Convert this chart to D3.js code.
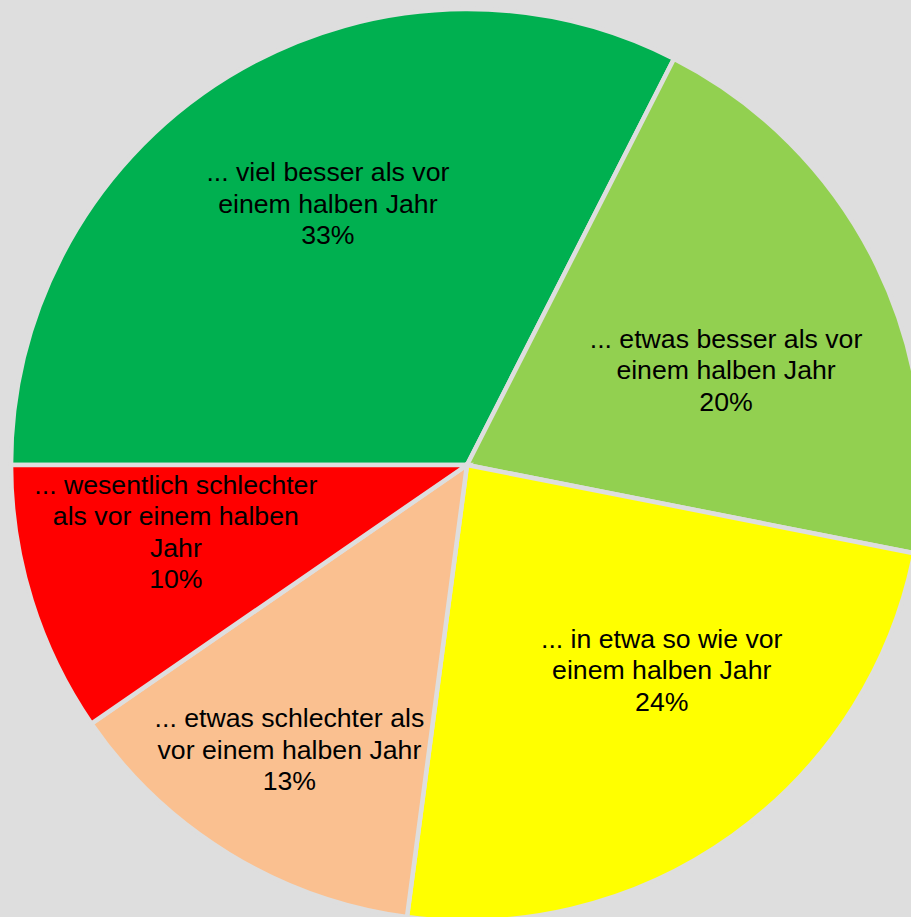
<!DOCTYPE html>
<html>
<head>
<meta charset="utf-8">
<script src="https://cdn.jsdelivr.net/npm/d3@7"></script>
<style>
  html, body { margin: 0; padding: 0; background: #dedede; }
  svg { display: block; }
</style>
</head>
<body>
<svg id="chart" width="911" height="917"></svg>
<script>
// ---- data ----
const categories = [
  "... viel besser als vor einem halben Jahr",
  "... etwas besser als vor einem halben Jahr",
  "... in etwa so wie vor einem halben Jahr",
  "... etwas schlechter als vor einem halben Jahr",
  "... wesentlich schlechter als vor einem halben Jahr"
];
const values = [32.5, 20.6, 24.0, 13.3, 9.6];
const percentLabels = ["33%", "20%", "24%", "13%", "10%"];
const labelLines = [
  ["... viel besser als vor", "einem halben Jahr"],
  ["... etwas besser als vor", "einem halben Jahr"],
  ["... in etwa so wie vor", "einem halben Jahr"],
  ["... etwas schlechter als", "vor einem halben Jahr"],
  ["... wesentlich schlechter", "als vor einem halben", "Jahr"]
];
const colors = ["#00B050", "#92D050", "#FFFF00", "#FAC090", "#FF0000"];

// ---- layout config ----
const width = 911, height = 917;
const cx = 467, cy = 465, radius = 456;
const bg = "#dedede";
const fontSize = 26.67, lineHeight = 31.3;
// label placement: fraction of radius and angular offset (degrees) from slice mid-angle
const labelRadiusFrac = [0.65, 0.605, 0.62, 0.735, 0.655];
const labelAngleOffset = [3.5, 5.8, -7.9, 0.5, 4.4];

const svg = d3.select("#chart");
svg.append("rect").attr("width", width).attr("height", height).attr("fill", bg);

const g = svg.append("g").attr("transform", `translate(${cx},${cy})`);

const data = categories.map((c, i) => ({ cat: c, value: values[i], i }));

const pie = d3.pie()
  .value(d => d.value)
  .sort(null)
  .startAngle(-Math.PI / 2)
  .endAngle(-Math.PI / 2 + 2 * Math.PI);

const arcs = pie(data);
const arc = d3.arc().innerRadius(0).outerRadius(radius);

g.selectAll("path.slice")
  .data(arcs)
  .join("path")
  .attr("class", "slice")
  .attr("d", arc)
  .attr("fill", d => colors[d.data.i])
  .attr("stroke", bg)
  .attr("stroke-width", 4.5)
  .attr("stroke-linejoin", "miter");

g.selectAll("text.lbl")
  .data(arcs)
  .join("text")
  .attr("class", "lbl")
  .attr("text-anchor", "middle")
  .attr("font-family", "'Liberation Sans', Arial, sans-serif")
  .attr("font-size", fontSize)
  .attr("fill", "#000")
  .each(function(d) {
    const i = d.data.i;
    const mid = (d.startAngle + d.endAngle) / 2 + labelAngleOffset[i] * Math.PI / 180;
    const r = radius * labelRadiusFrac[i];
    const x = Math.sin(mid) * r;
    const y = -Math.cos(mid) * r;
    const lines = labelLines[i].concat([percentLabels[i]]);
    const n = lines.length;
    const firstBaseline = y - (n - 1) * lineHeight / 2 + fontSize * 0.35;
    const t = d3.select(this);
    lines.forEach((ln, k) => {
      t.append("tspan")
        .attr("x", x)
        .attr("y", firstBaseline + k * lineHeight)
        .text(ln);
    });
  });
</script>
</body>
</html>
